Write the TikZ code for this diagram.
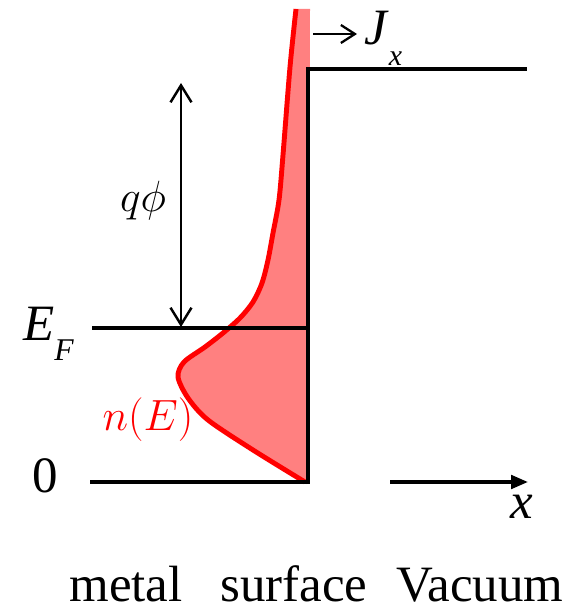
\documentclass[tikz,border=0pt]{standalone}
\usepackage{fontspec}
\setmainfont{Liberation Serif}
\usetikzlibrary{arrows.meta}
\begin{document}
\begin{tikzpicture}[x=0.02cm, y=-0.02cm,
    level/.style={line width=2.6pt},
    dos/.style={red, line width=2.8pt, line join=round},
    lbl/.style={font=\fontsize{29}{32}\selectfont, inner sep=0pt}]
    \useasboundingbox (0,0) rectangle (574,607);
    \coordinate (base) at (308,484);
    \coordinate (corner) at (308,69);
    \coordinate (vac) at (527,69);
    \coordinate (efl) at (92,328);
    \coordinate (efr) at (308,328);
    \coordinate (zl) at (90,482);
    \coordinate (zr) at (306,482);
    \coordinate (qtop) at (181,83);
    \coordinate (qbot) at (181,327);
    \coordinate (xs) at (390,482);
    \coordinate (xe) at (528,482);
    \coordinate (js) at (313,34);
    \fill[red!50] plot[smooth, tension=0.5] coordinates {(296,9) (290,67) (283,155) (279,200) (273,233) (268,260) (262,283) (253,302) (240,318) (223,333) (205,347) (184,362) (178,377) (188,398) (208,420) (253,450) (305,482)} -- (308,482) -- (310,9) -- cycle;
    \draw[dos] plot[smooth, tension=0.5] coordinates {(296,9) (290,67) (283,155) (279,200) (273,233) (268,260) (262,283) (253,302) (240,318) (223,333) (205,347) (184,362) (178,377) (188,398) (208,420) (253,450) (305,482)};
    \draw[level] (base) -- (corner) -- (vac);
    \draw[level] (efl) -- (efr);
    \draw[level] (zl) -- (zr);
    \draw[{Straight Barb[length=0.34cm, width=0.42cm]}-{Straight Barb[length=0.34cm, width=0.42cm]}, line width=1.4pt] (qtop) -- (qbot);
    \draw[-{Triangle[length=0.34cm, width=0.27cm]}, line width=2pt] (xs) -- (xe);
    \node[lbl, anchor=base west] (jx) at (364,45) {\textit{J}\raisebox{-0.4em}{\fontsize{17}{17}\selectfont\textit{x}}};
    \draw[-{Straight Barb[length=0.28cm, width=0.36cm]}, line width=1.3pt] (js) -- (357,34);
    \node[lbl, anchor=base west] (ef) at (23,340) {\textit{E}\raisebox{-0.4em}{\fontsize{18}{18}\selectfont\textit{F}}};
    \node[lbl, anchor=base] (zero) at (45,492) {0};
    \node[lbl, anchor=base, font=\fontsize{25}{28}\selectfont] (work) at (143,212) {$q\phi$};
    \node[lbl, anchor=base, red, font=\fontsize{26}{29}\selectfont] (dens) at (148,430) {$n(E)$};
    \node[lbl, anchor=base] (xlab) at (522,518) {\textit{x}};
    \node[lbl, anchor=base] (metal) at (126,601) {metal};
    \node[lbl, anchor=base] (surf) at (294,601) {surface};
    \node[lbl, anchor=base] (vacuum) at (480,601) {Vacuum};
\end{tikzpicture}
\end{document}
